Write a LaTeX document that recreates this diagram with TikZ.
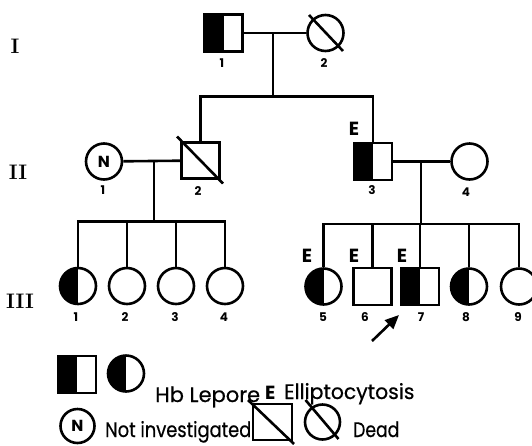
\documentclass[tikz,border=0pt]{standalone}
\usepackage{fontspec}
\newfontfamily\geo{Poppins}
\newfontfamily\geoleg[FakeBold=0.5]{Poppins}
\usetikzlibrary{calc,arrows.meta}
\begin{document}
\begin{tikzpicture}[x=1pt,y=-1pt,
  ln/.style={line width=2.6pt},
  pm/.style={draw,line width=2.6pt,rectangle,inner sep=0pt,minimum width=38pt,minimum height=37pt},
  pf/.style={draw,line width=2.6pt,circle,inner sep=0pt,minimum size=36pt},
  half/.style={path picture={\fill[black] (path picture bounding box.south west) rectangle (path picture bounding box.north);}},
  num/.style={font=\geo\bfseries\fontsize{12}{14}\selectfont,inner sep=0pt},
  elab/.style={font=\geo\bfseries\fontsize{19}{22}\selectfont,inner sep=0pt},
  nlab/.style={font=\geo\bfseries\fontsize{16}{18}\selectfont},
  gen/.style={font=\bfseries\fontsize{21}{24}\selectfont,inner sep=0pt},
  legtxt/.style={font=\geoleg\fontsize{21}{24}\selectfont,inner sep=0pt,anchor=base west},
  slash/.style={line width=2.6pt}
]
\clip (0,0) rectangle (532,445);
\fill[white] (0,0) rectangle (532,445);

% generation labels
\node[gen] (gI) at (15,46) {I};
\node[gen] (gII) at (18,172) {II};
\node[gen] (gIII) at (20,301) {III};

% Generation I
\node[pm,half] (I1) at (223.5,33) {};
\node[pf] (I2) at (325.5,33) {};
\draw[slash] ($(I2.center)+(-16.5,-18)$) -- ($(I2.center)+(17.5,18)$);
\node[num] (nI1) at (222,63) {1};
\node[num] (nI2) at (324,63) {2};
\draw[ln] (I1) -- (I2);
\coordinate (m1) at (273,33);
\coordinate (s1) at (273,96.5);
\draw[ln] (m1) -- (s1);

% Generation II
\node[pf,nlab] (II1) at (104,161.5) {N};
\node[pm,minimum height=36pt] (II2) at (200.5,160.5) {};
\draw[slash] ($(II2.center)+(-23.5,-24)$) -- ($(II2.center)+(22.5,23)$);
\node[pm,half] (II3) at (373,161.5) {};
\node[pf] (II4) at (469.5,161.5) {};
\node[elab] (EII3) at (354,129) {E};
\node[num] (nII1) at (103,190) {1};
\node[num] (nII2) at (198,191) {2};
\node[num] (nII3) at (372,190) {3};
\node[num] (nII4) at (466,192) {4};
\draw[ln] (II2.north) |- (s1) -| (II3.north);
\draw[ln] (II1) -- (II2);
\draw[ln] (II3) -- (II4);
\coordinate (m2) at (154,161.5);
\coordinate (s2) at (154,221.5);
\draw[ln] (m2) -- (s2);
\coordinate (m3) at (421,161.5);
\coordinate (s3) at (421,224);
\draw[ln] (m3) -- (s3);

% Generation III
\node[pf,half] (III1) at (78,286) {};
\node[pf] (III2) at (127,286) {};
\node[pf] (III3) at (176,286) {};
\node[pf] (III4) at (225,286) {};
\node[pf,half] (III5) at (323.5,286.5) {};
\node[pm] (III6) at (372.5,286.5) {};
\node[pm,half] (III7) at (420,286.5) {};
\node[pf,half] (III8) at (469,286.5) {};
\node[pf] (III9) at (519,286.5) {};
\draw[ln] (III1.north) |- (s2) -| (III4.north);
\draw[ln] (III2.north) -- (III2.north |- s2);
\draw[ln] (III3.north) -- (III3.north |- s2);
\draw[ln] (III5.north) |- (s3) -| (III9.north);
\draw[ln] (III6.north) -- (III6.north |- s3);
\draw[ln] (III7.north) -- (III7.north |- s3);
\draw[ln] (III8.north) -- (III8.north |- s3);
\node[elab] (EIII5) at (307,256) {E};
\node[elab] (EIII6) at (354,256) {E};
\node[elab] (EIII7) at (402,256) {E};
\node[num] (nIII1) at (76,317) {1};
\node[num] (nIII2) at (125,317) {2};
\node[num] (nIII3) at (175,317) {3};
\node[num] (nIII4) at (224,317) {4};
\node[num] (nIII5) at (323,317) {5};
\node[num] (nIII6) at (365,317) {6};
\node[num] (nIII7) at (421,317) {7};
\node[num] (nIII8) at (466,317) {8};
\node[num] (nIII9) at (518,317) {9};
\coordinate (arT) at (372,341);
\coordinate (arH) at (399,315);
\draw[ln,-{Triangle[length=14pt,width=12pt]}] (arT) -- (arH);

% Legend
\node[pm,half] (Lm) at (77,374.5) {};
\node[pf,half] (Lf) at (126,373.5) {};
\node[legtxt] (tHb) at (155,402) {Hb Lepore};
\node[elab,anchor=base west] (LE) at (265,399) {E};
\node[legtxt] (tEl) at (284,399) {\scalebox{0.97}[1]{Elliptocytosis}};
\node[pf,nlab,minimum size=34pt] (LN) at (77.5,426) {N};
\node[legtxt] (tNI) at (105,437) {\scalebox{0.85}[1]{Not investigated}};
\node[pm,minimum width=39pt,minimum height=36pt] (Ldm) at (272.5,422) {};
\draw[slash] ($(Ldm.center)+(-24.5,-22)$) -- ($(Ldm.center)+(21.5,22)$);
\node[pf,minimum size=35pt] (Ldf) at (322.5,422) {};
\draw[slash] ($(Ldf.center)+(-17,-22)$) -- ($(Ldf.center)+(16,17)$);
\node[legtxt] (tDead) at (353,437) {\scalebox{0.82}[1]{Dead}};
\end{tikzpicture}
\end{document}
